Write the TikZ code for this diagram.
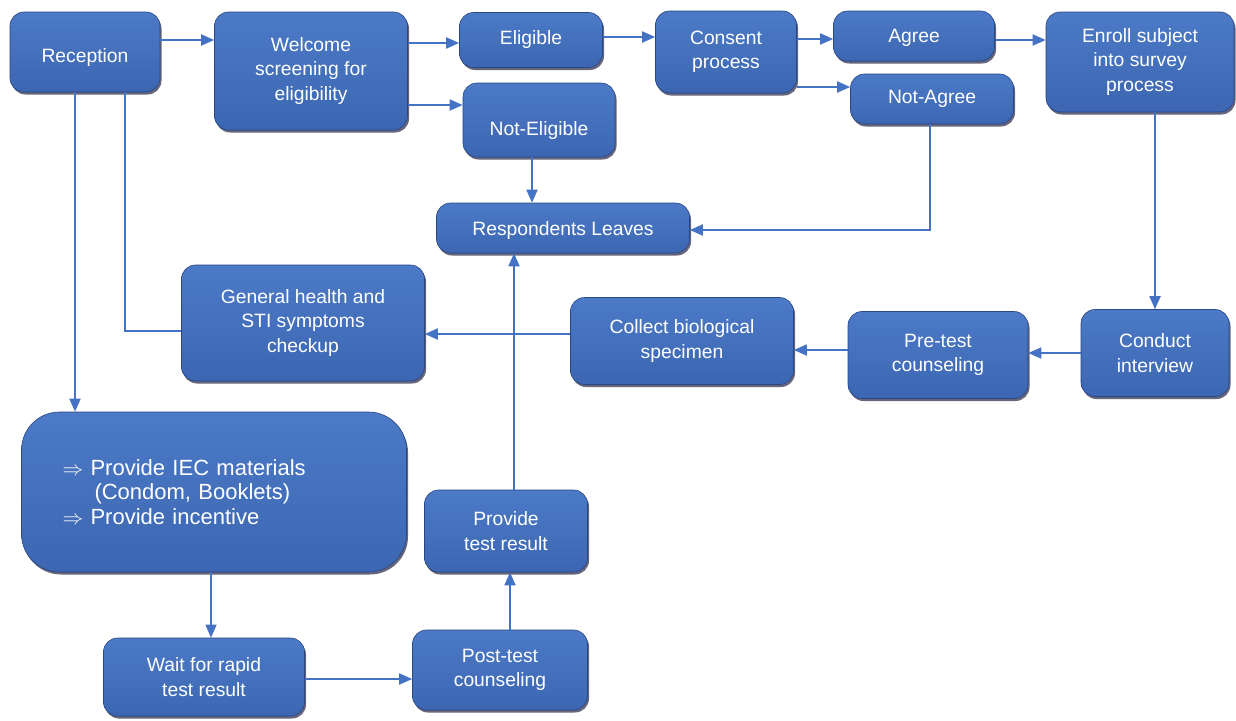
\documentclass[tikz,border=0pt]{standalone}
\usepackage{fontspec}
\setmainfont{Liberation Sans}
\usetikzlibrary{arrows.meta,shadows}
\definecolor{boxtop}{RGB}{76,122,198}
\definecolor{boxbot}{RGB}{60,102,178}
\definecolor{boxedge}{RGB}{40,70,130}
\definecolor{linkblue}{RGB}{68,114,196}
\newcommand{\lowtxt}[2]{\raisebox{-#1}[\height][\depth]{#2}}
\begin{document}
\begin{tikzpicture}[x=1pt,y=-1pt,
  box/.style={rounded corners=14pt, draw=boxedge, line width=0.6pt,
    top color=boxtop, bottom color=boxbot,
    drop shadow={shadow xshift=1.5pt,shadow yshift=-2.5pt,opacity=0.6,fill=black!85!blue},
    text=white, font=\fontsize{19.3}{24.5}\selectfont, align=center, inner sep=2pt},
  arr/.style={draw=linkblue, line width=1.8pt, -{Triangle[length=13pt,width=11pt]}},
  ln/.style={draw=linkblue, line width=1.8pt}]
\useasboundingbox (0,0) rectangle (1236,720);
\fill[white] (0,0) rectangle (1236,720);

% nodes
\node[box, minimum width=150pt, minimum height=80pt] (rec) at (85,52) {\lowtxt{6pt}{Reception}};
\node[box, minimum width=193pt, minimum height=118pt] (wel) at (311,71) {Welcome\\screening for\\eligibility};
\node[box, minimum width=143pt, minimum height=55pt] (eli) at (531,40) {Eligible};
\node[box, minimum width=152pt, minimum height=74pt] (noteli) at (539,120) {\lowtxt{11pt}{Not-Eligible}};
\node[box, minimum width=141pt, minimum height=82pt] (con) at (726,52) {Consent\\process};
\node[box, minimum width=161pt, minimum height=50pt] (agr) at (914,36) {\lowtxt{2pt}{Agree}};
\node[box, minimum width=163pt, minimum height=50pt] (notagr) at (932,99) {Not-Agree};
\node[box, minimum width=188pt, minimum height=100pt] (enr) at (1140,62) {Enroll subject\\into survey\\process};
\node[box, minimum width=253pt, minimum height=50pt] (resp) at (563,228) {\lowtxt{3pt}{Respondents Leaves}};
\node[box, minimum width=243pt, minimum height=116pt] (gen) at (303,323) {General health and\\STI symptoms\\checkup};
\node[box, minimum width=223pt, minimum height=87pt] (col) at (682,341) {Collect biological\\specimen};
\node[box, minimum width=180pt, minimum height=87pt] (pre) at (938,355) {Pre-test\\counseling};
\node[box, minimum width=148pt, minimum height=87pt] (cond) at (1155,353) {Conduct\\interview};
\node[box, rounded corners=38pt, minimum width=385pt, minimum height=160pt,
      text width=303pt, inner xsep=41pt, align=left,
      font=\fontsize{22}{24.5}\selectfont] (iec) at (214,492)
  {$\Rightarrow$ Provide IEC materials\\\hspace*{32pt}(Condom, Booklets)\\$\Rightarrow$ Provide incentive};
\node[box, minimum width=201pt, minimum height=78pt] (wait) at (204,677) {Wait for rapid\\test result};
\node[box, minimum width=175pt, minimum height=80pt] (post) at (500,670) {Post-test\\counseling};
\node[box, minimum width=163pt, minimum height=82pt] (prov) at (506,531) {Provide\\test result};

% connectors
\draw[arr] (rec.east |- 0,40) -- (wel.west |- 0,40);
\draw[arr] (wel.east |- 0,43) -- (eli.west |- 0,43);
\draw[arr] (wel.east |- 0,105) -- (noteli.west |- 0,105);
\draw[arr] (eli.east |- 0,37) -- (con.west |- 0,37);
\draw[arr] (con.east |- 0,39) -- (agr.west |- 0,39);
\draw[arr] (con.east |- 0,87) -- (notagr.west |- 0,87);
\draw[arr] (agr.east |- 0,40) -- (enr.west |- 0,40);
\draw[arr] (noteli.south -| 532,0) -- (resp.north -| 532,0);
\draw[arr] (notagr.south -| 930,0) |- (resp.east |- 0,230);
\draw[arr] (enr.south -| 1155,0) -- (cond.north -| 1155,0);
\draw[arr] (cond.west |- 0,353) -- (pre.east |- 0,353);
\draw[arr] (pre.west |- 0,350) -- (col.east |- 0,350);
\draw[arr] (col.west |- 0,334) -- (gen.east |- 0,334);
\draw[ln] (rec.south -| 125,0) |- (gen.west |- 0,331);
\draw[arr] (rec.south -| 75,0) -- (iec.north -| 75,0);
\draw[arr, line width=1.2pt] (iec.south -| 211,0) -- (wait.north -| 211,0);
\draw[arr] (wait.east |- 0,679) -- (post.west |- 0,679);
\draw[arr] (post.north -| 510,0) -- (prov.south -| 510,0);
\draw[arr] (prov.north -| 514,0) -- (resp.south -| 514,0);
\end{tikzpicture}
\end{document}
